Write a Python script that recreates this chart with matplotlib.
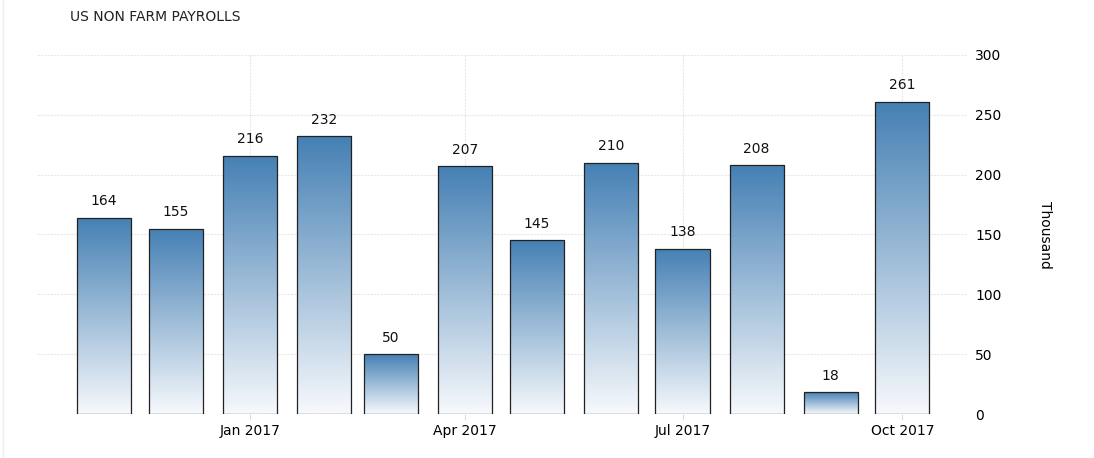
import numpy as np
import matplotlib.pyplot as plt
import matplotlib.dates as mdates
from matplotlib.colors import LinearSegmentedColormap
from matplotlib.lines import Line2D
import datetime as dt

plt.rcParams['font.family'] = ['DejaVu Sans']

# Data
months = ["2016-11", "2016-12", "2017-01", "2017-02", "2017-03", "2017-04",
          "2017-05", "2017-06", "2017-07", "2017-08", "2017-09", "2017-10"]
payrolls = [164, 155, 216, 232, 50, 207, 145, 210, 138, 208, 18, 261]
tick_months = ["2017-01", "2017-04", "2017-07", "2017-10"]
tick_labels = ["Jan 2017", "Apr 2017", "Jul 2017", "Oct 2017"]

dates = [dt.datetime.strptime(m, "%Y-%m") for m in months]
x = mdates.date2num(dates)
ticks = mdates.date2num([dt.datetime.strptime(m, "%Y-%m") for m in tick_months])

fig = plt.figure(figsize=(10.94, 4.58), dpi=100)
ax = fig.add_axes([37/1094, 44/458, 930/1094, 359/458])

cmap = LinearSegmentedColormap.from_list("grad", ["#f7f9fc", "#4580b4"])
grad = np.linspace(0, 1, 256).reshape(-1, 1)
width = 22.6

bars = ax.bar(x, payrolls, width=width, color="none", edgecolor="#222222",
              linewidth=0.9, zorder=3)
for b, v in zip(bars, payrolls):
    x0 = b.get_x()
    im = ax.imshow(grad, cmap=cmap, aspect="auto", origin="lower",
                   extent=[x0, x0 + width, 0, v], zorder=2)
    im.set_clip_path(b)
    ax.text(x0 + width / 2, v + 8, str(v), ha="center", va="bottom",
            fontsize=10, color="#111111")

ax.set_xlim(mdates.date2num(dt.datetime(2016, 10, 4)),
            mdates.date2num(dt.datetime(2017, 10, 28)))
ax.set_ylim(0, 300)
ax.set_xticks(ticks)
ax.set_xticklabels(tick_labels)
ax.set_yticks(range(0, 301, 50))
ax.yaxis.tick_right()
ax.yaxis.set_label_position("right")
ax.set_ylabel("Thousand", rotation=270, labelpad=36, fontsize=10)
ax.tick_params(axis="y", length=0, pad=6, labelsize=10)
ax.tick_params(axis="x", length=4, color="#dddddd", pad=3, labelsize=10)
ax.grid(True, color="#e8e8e8", linewidth=0.8, linestyle=(0, (2, 1)))
ax.set_axisbelow(True)
for s in ax.spines.values():
    s.set_visible(False)

fig.text(70/1094, 1 - 17/458, "US NON FARM PAYROLLS", ha="left", va="center",
         fontsize=10, color="#222222")
fig.add_artist(Line2D([3/1094, 3/1094], [0, 1], color="#eeeeee", linewidth=1))

plt.savefig("out.png", dpi=100)
